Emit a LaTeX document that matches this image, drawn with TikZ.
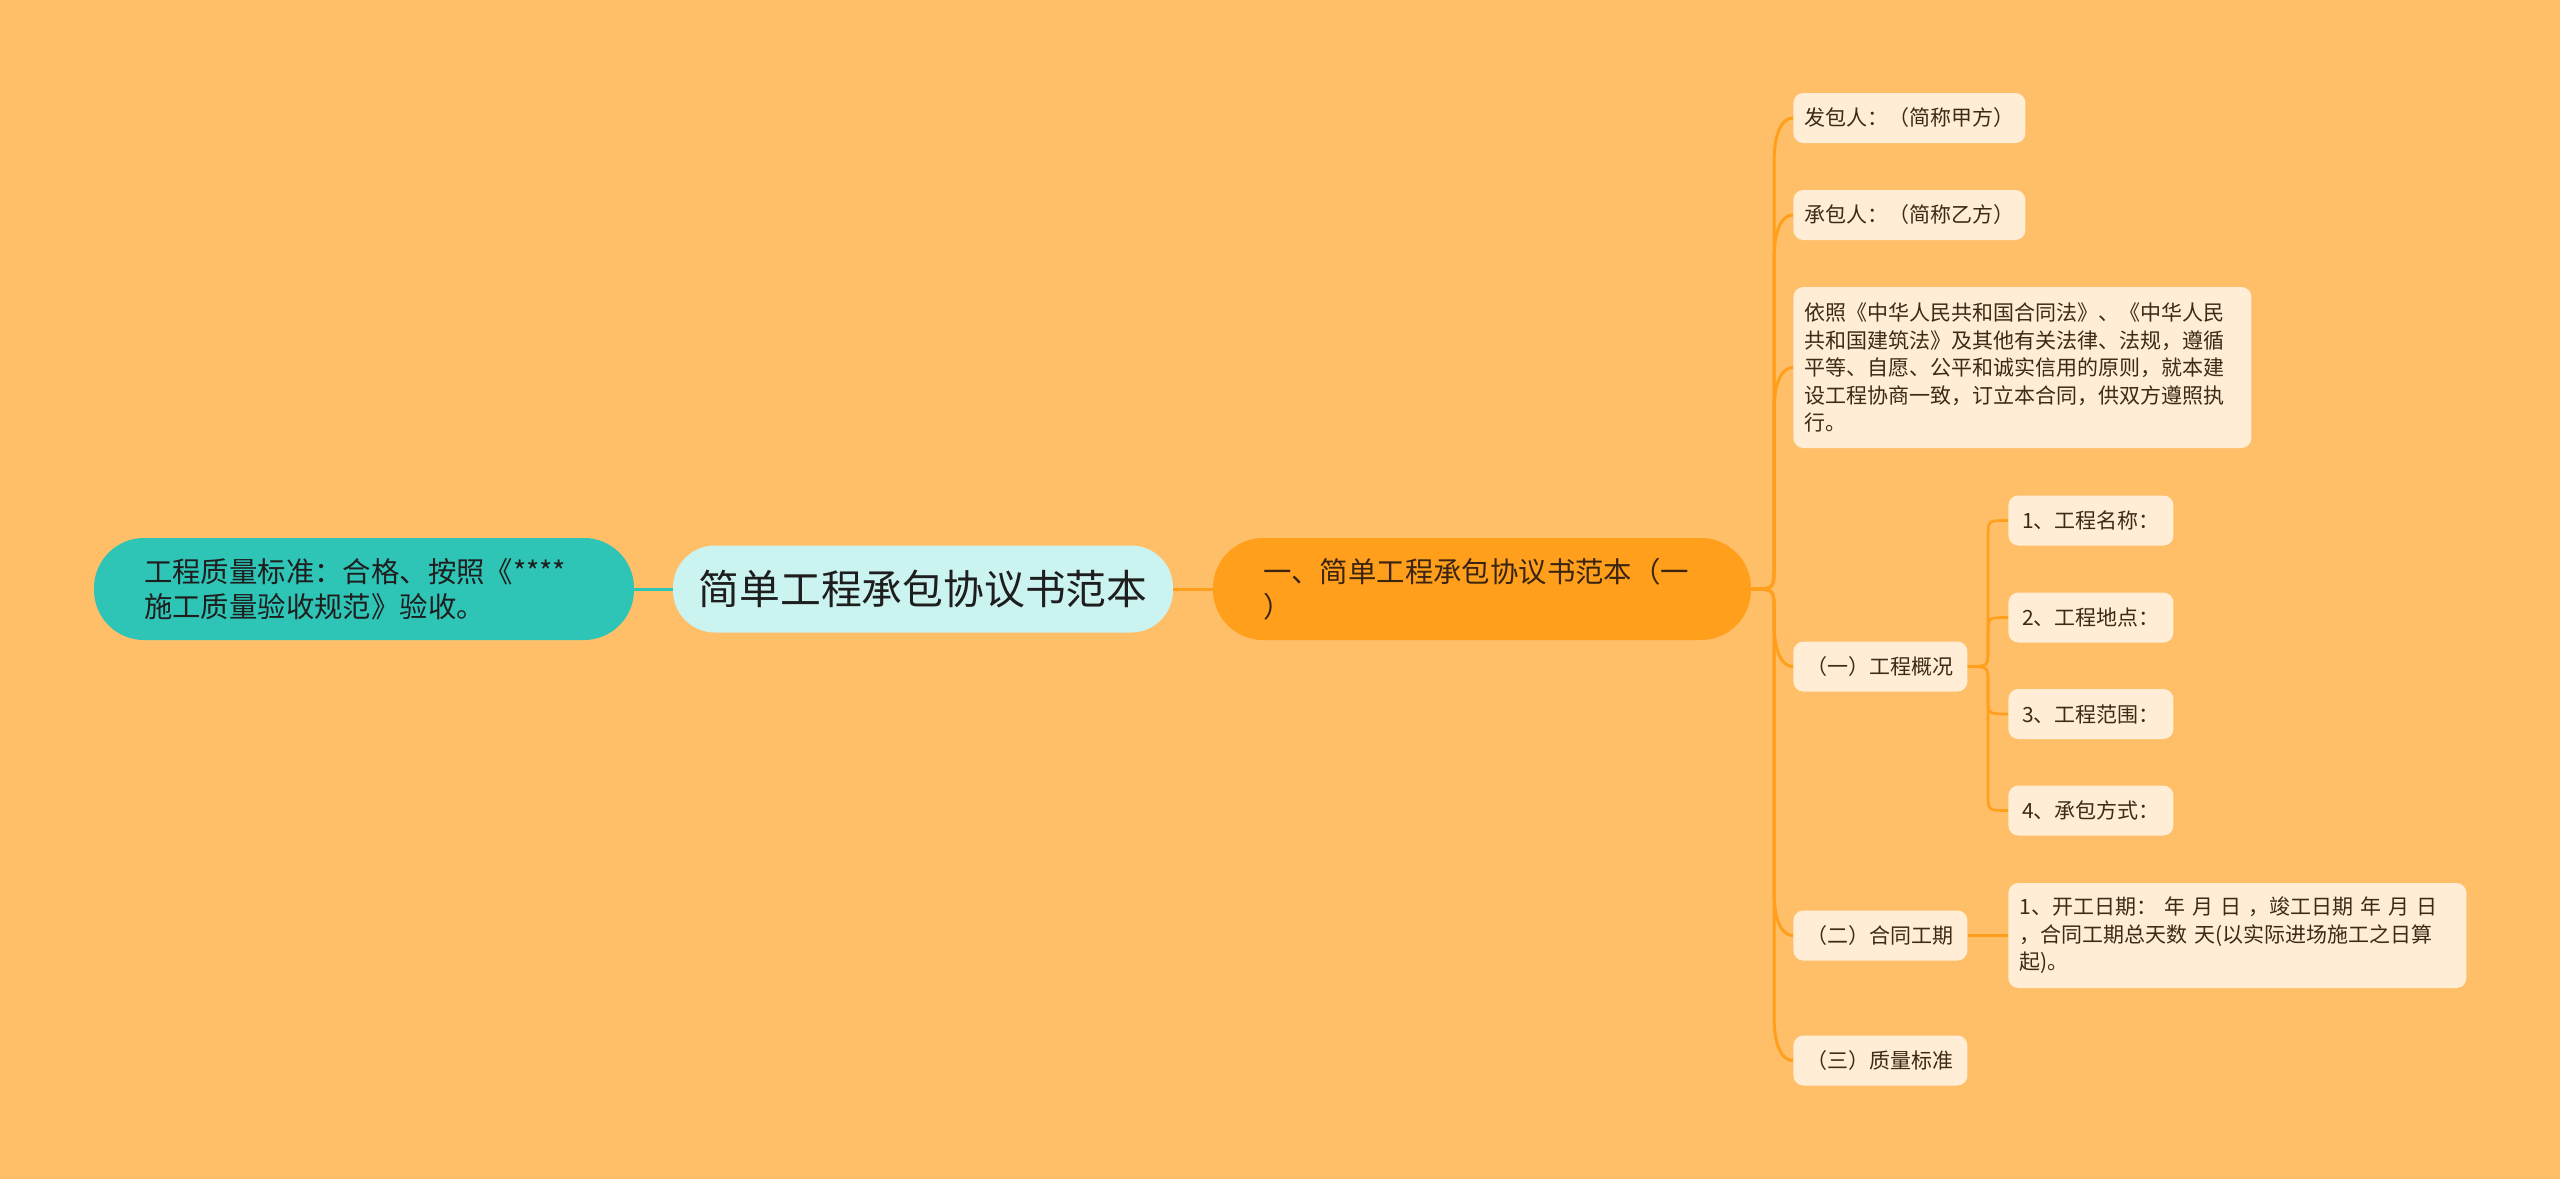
\documentclass[tikz,border=0pt]{standalone}
\usepackage{fontspec}
\setmainfont{Noto Sans CJK SC}
\usetikzlibrary{calc}
\definecolor{bgc}{HTML}{FFBF69}
\definecolor{tealc}{HTML}{2EC4B6}
\definecolor{rootc}{HTML}{CBF3F0}
\definecolor{orc}{HTML}{FF9F1C}
\definecolor{leafc}{HTML}{FFEDD5}
\definecolor{leaftext}{HTML}{3D2A17}
\definecolor{ortext}{HTML}{3B2410}
\definecolor{darktext}{HTML}{1E1E1E}
\begin{document}
\begin{tikzpicture}[x=0.5pt,y=-0.5pt,
  bignode/.style={rounded corners=25pt, minimum height=51pt, inner xsep=25pt, inner ysep=4pt,
    align=left, font=\fontsize{14.2}{17.5}\selectfont},
  leafbox/.style={fill=leafc, rounded corners=5pt, inner xsep=5.5pt, inner ysep=4pt,
    minimum height=25pt, text=leaftext, anchor=west, align=left,
    font=\fontsize{10.5}{13.75}\selectfont},
  conn/.style={draw=orc, line width=1.5pt},
  subconn/.style={draw=orc, line width=1.3pt},
]
\useasboundingbox (0,0) rectangle (2560,1179);
\fill[bgc] (0,0) rectangle (2560,1179);

% main nodes
\node[bignode, fill=tealc, text=darktext, text width=220pt] (Q) at (364,589)
  {工程质量标准：合格、按照《****\\施工质量验收规范》验收。};
\node[fill=rootc, rounded corners=21pt, minimum width=250pt, minimum height=43.5pt,
  text=darktext, font=\fontsize{20.4}{24}\selectfont] (R) at (923,589)
  {简单工程承包协议书范本};
\node[bignode, fill=orc, text=ortext, text width=219pt] (O) at (1482,589)
  {一、简单工程承包协议书范本（一\\）};

% leaves
\node[leafbox] (L1) at (1793,118) {发包人：（简称甲方）};
\node[leafbox] (L2) at (1793,215) {承包人：（简称乙方）};
\node[leafbox, minimum height=80.5pt, text width=218pt] (L3) at (1793,367.5)
  {依照《中华人民共和国合同法》、《中华人民\\共和国建筑法》及其他有关法律、法规，遵循\\平等、自愿、公平和诚实信用的原则，就本建\\设工程协商一致，订立本合同，供双方遵照执\\行。};
\node[leafbox, minimum width=87pt, align=center] (G1) at (1793,666.5) {（一）工程概况};
\node[leafbox, minimum width=87pt, align=center] (G2) at (1793,935.5) {（二）合同工期};
\node[leafbox, minimum width=87pt, align=center] (G3) at (1793,1060.5) {（三）质量标准};

\node[leafbox, minimum width=82.5pt, align=center] (I1) at (2008,520.5) {1、工程名称：};
\node[leafbox, minimum width=82.5pt, align=center] (I2) at (2008,617.5) {2、工程地点：};
\node[leafbox, minimum width=82.5pt, align=center] (I3) at (2008,714) {3、工程范围：};
\node[leafbox, minimum width=82.5pt, align=center] (I4) at (2008,810.5) {4、承包方式：};

\node[leafbox, minimum height=52.5pt, text width=218pt] (D1) at (2008,935.5)
  {1、开工日期： 年 月 日 ，竣工日期 年 月 日\\，合同工期总天数 天(以实际进场施工之日算\\起)。};

% connectors
\coordinate (tr) at (1774,0);
\coordinate (tr2) at (1988,0);
\draw[draw=tealc, line width=1.5pt] (Q.east) -- (R.west);
\draw[conn] (R.east) -- (O.west);
\foreach \n/\s in {L1/-1,L2/-1,L3/-1,G1/1,G2/1,G3/1}
  \draw[conn] (O.east) .. controls (tr |- O.east) .. ($(tr |- O.east)+(0,\s*22)$)
    -- ($(tr |- \n.west)-(0,\s*45)$)
    .. controls ($(tr |- \n.west)-(0,\s*12)$) and ($(\n.west)-(10,0)$) .. (\n.west);
\foreach \n/\s in {I1/-1,I2/-1,I3/1,I4/1}
  \draw[subconn] (G1.east) .. controls (tr2 |- G1.east) .. ($(tr2 |- G1.east)+(0,\s*16)$)
    -- ($(tr2 |- \n.west)-(0,\s*16)$) .. controls (tr2 |- \n.west) .. (\n.west);
\draw[subconn] (G2.east) -- (D1.west);
\end{tikzpicture}
\end{document}
